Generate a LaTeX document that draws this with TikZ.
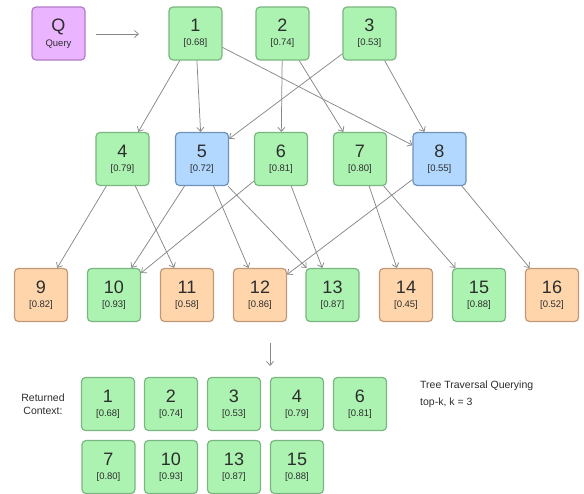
\documentclass[tikz,border=0pt]{standalone}
\usepackage{fontspec}
\setmainfont{Liberation Sans}
\usetikzlibrary{arrows.meta}
\definecolor{gfill}{RGB}{172,243,178}
\definecolor{gline}{RGB}{122,182,128}
\definecolor{bfill}{RGB}{178,216,255}
\definecolor{bline}{RGB}{112,146,186}
\definecolor{ofill}{RGB}{255,214,172}
\definecolor{oline}{RGB}{192,152,118}
\definecolor{pfill}{RGB}{234,180,255}
\definecolor{pline}{RGB}{178,122,200}
\definecolor{txt}{RGB}{45,45,45}
\definecolor{edgec}{RGB}{135,135,135}
\tikzset{
  box/.style={minimum width=53pt, minimum height=53pt, rounded corners=4pt,
    line width=1.2pt, inner sep=0pt, align=center, text=txt},
  gbox/.style={box, fill=gfill, draw=gline},
  bbox/.style={box, fill=bfill, draw=bline},
  obox/.style={box, fill=ofill, draw=oline},
  pbox/.style={box, fill=pfill, draw=pline},
  conn/.style={draw=edgec, line width=0.75pt, -{Straight Barb[length=4pt,width=7pt]}},
}
\newcommand{\boxlabel}[2]{{\fontsize{18}{18}\selectfont #1}\\[2pt]{\fontsize{9.5}{9.5}\selectfont [#2]}}
\begin{document}
\begin{tikzpicture}[x=1pt,y=-1pt]
\useasboundingbox (0,0) rectangle (584,493);
% query
\node[pbox] (Q) at (58.5,33.5) {{\fontsize{18}{18}\selectfont Q}\\[3pt]{\fontsize{9.5}{9.5}\selectfont Query}};
\coordinate (qa) at (96,34);
\coordinate (qb) at (139,34);
\draw[conn] (qa) -- (qb);
% level 1
\node[gbox] (n1) at (195.5,33.5) {\boxlabel{1}{0.68}};
\node[gbox] (n2) at (282.5,33.5) {\boxlabel{2}{0.74}};
\node[gbox] (n3) at (369.5,33.5) {\boxlabel{3}{0.53}};
% level 2
\node[gbox] (n4) at (122.5,159) {\boxlabel{4}{0.79}};
\node[bbox] (n5) at (202,159) {\boxlabel{5}{0.72}};
\node[gbox] (n6) at (281,159) {\boxlabel{6}{0.81}};
\node[gbox] (n7) at (360,159) {\boxlabel{7}{0.80}};
\node[bbox] (n8) at (439.5,159) {\boxlabel{8}{0.55}};
% level 3
\node[obox] (n9)  at (41,295) {\boxlabel{9}{0.82}};
\node[gbox] (n10) at (114,295) {\boxlabel{10}{0.93}};
\node[obox] (n11) at (187,295) {\boxlabel{11}{0.58}};
\node[obox] (n12) at (260,295) {\boxlabel{12}{0.86}};
\node[gbox] (n13) at (332.5,295) {\boxlabel{13}{0.87}};
\node[obox] (n14) at (406,295) {\boxlabel{14}{0.45}};
\node[gbox] (n15) at (479,295) {\boxlabel{15}{0.88}};
\node[obox] (n16) at (552,295) {\boxlabel{16}{0.52}};
% edges level 1 -> 2
\draw[conn] (n1) -- (n4);
\draw[conn] (n1) -- (n5);
\draw[conn] (n1) -- (n8);
\draw[conn] (n2) -- (n6);
\draw[conn] (n2) -- (n7);
\draw[conn] (n3) -- (n5);
\draw[conn] (n3) -- (n8);
% edges level 2 -> 3
\draw[conn] (n4) -- (n9);
\draw[conn] (n4) -- (n11);
\draw[conn] (n5) -- (n10);
\draw[conn] (n5) -- (n12);
\draw[conn] (n5) -- (n13);
\draw[conn] (n6) -- (n10);
\draw[conn] (n6) -- (n13);
\draw[conn] (n7) -- (n14);
\draw[conn] (n7) -- (n15);
\draw[conn] (n8) -- (n12);
\draw[conn] (n8) -- (n16);
% down arrow
\coordinate (da) at (270,343);
\coordinate (db) at (270,366);
\draw[conn] (da) -- (db);
% returned context
\node[text=txt, align=center, font=\fontsize{10.5}{13}\selectfont] (rc) at (43,404) {Returned\\Context:};
\node[gbox] (r1) at (108,404) {\boxlabel{1}{0.68}};
\node[gbox] (r2) at (171,404) {\boxlabel{2}{0.74}};
\node[gbox] (r3) at (234,404) {\boxlabel{3}{0.53}};
\node[gbox] (r4) at (297,404) {\boxlabel{4}{0.79}};
\node[gbox] (r6) at (360,404) {\boxlabel{6}{0.81}};
\node[gbox] (r7) at (108.5,467) {\boxlabel{7}{0.80}};
\node[gbox] (r10) at (171,467) {\boxlabel{10}{0.93}};
\node[gbox] (r13) at (234,467) {\boxlabel{13}{0.87}};
\node[gbox] (r15) at (297,467) {\boxlabel{15}{0.88}};
\node[text=txt, anchor=west, inner sep=0pt, font=\fontsize{10.5}{13}\selectfont] (tt) at (420,386) {Tree Traversal Querying};
\node[text=txt, anchor=west, inner sep=0pt, font=\fontsize{10.5}{12}\selectfont] (tk) at (420,403) {top-k, k = 3};
\end{tikzpicture}
\end{document}
